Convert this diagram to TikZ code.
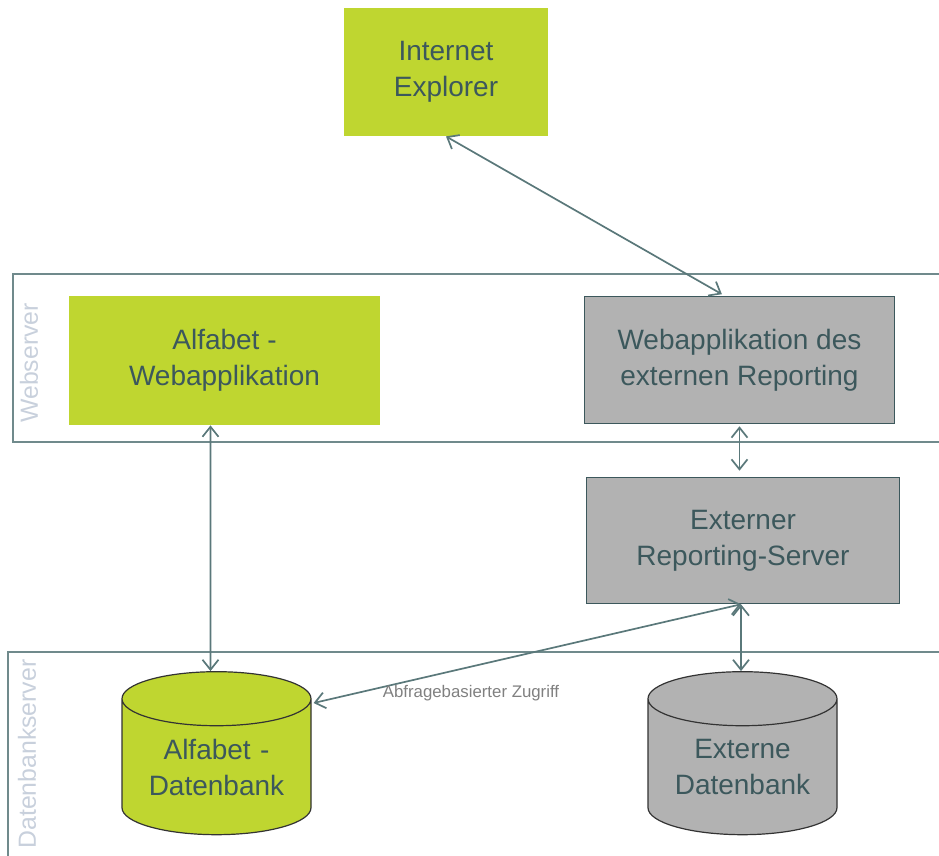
\documentclass[tikz,border=0pt]{standalone}
\usepackage{fontspec}
\setmainfont{Liberation Sans}
\usepackage{tikz}
\usetikzlibrary{calc,shapes.geometric,arrows.meta}
\usepackage{xcolor}
\definecolor{alfagreen}{RGB}{191,214,48}
\definecolor{extgray}{RGB}{178,178,178}
\definecolor{boxtext}{RGB}{60,88,92}
\definecolor{laneline}{RGB}{112,138,140}
\definecolor{lanetext}{RGB}{200,208,220}
\definecolor{linkline}{RGB}{90,120,122}
\definecolor{notetext}{RGB}{128,128,128}

\begin{document}
\begin{tikzpicture}[x=0.5pt,y=-0.5pt]
  \tikzset{greenbox/.style={rectangle,fill=alfagreen,text=boxtext,align=center,font=\fontsize{14}{18}\selectfont,inner sep=0pt}}
  \tikzset{graybox/.style={rectangle,fill=extgray,draw=boxtext,line width=0.8pt,text=boxtext,align=center,font=\fontsize{14}{18}\selectfont,inner sep=0pt}}
  \tikzset{dbcylinder/.style={cylinder,shape border rotate=90,aspect=0.386,draw=black!80,line width=0.6pt,inner sep=0pt,text width=70pt,minimum width=94.5pt,minimum height=81.5pt,text=boxtext,align=center,font=\fontsize{14}{18}\selectfont}}
  \tikzset{lane/.style={draw=laneline,line width=1pt}}
  \tikzset{lanelabel/.style={rotate=90,text=lanetext,font=\fontsize{12.4}{14}\selectfont,inner sep=0pt}}
  \tikzset{link/.style={draw=linkline,line width=0.85pt,{Straight Barb[length=5pt,width=8pt]}-{Straight Barb[length=5pt,width=8pt]}}}
  \tikzset{linklabel/.style={font=\fontsize{8.4}{10}\selectfont,text=notetext,inner sep=1pt}}
  \useasboundingbox (0,0) rectangle (939,856);
  % server lanes
  \draw[lane] (939,274) -| (13,442) -- (939,442);
  \draw[lane] (939,652) -| (8,856);
  \node[lanelabel] (lweb) at (29,363) {Webserver};
  \node[lanelabel] (ldb) at (27,754) {Datenbankserver};
  % boxes
  \node[greenbox,minimum width=102pt,minimum height=64pt] (ie) at (446,72) {Internet\\Explorer};
  \node[greenbox,minimum width=155.5pt,minimum height=64.5pt] (awa) at (224.5,360.5) {Alfabet -\\Webapplikation};
  \node[graybox,minimum width=155pt,minimum height=63.5pt] (wxr) at (739.5,360) {Webapplikation des\\externen Reporting};
  \node[graybox,minimum width=156.5pt,minimum height=63pt] (ers) at (743,540.5) {Externer\\Reporting-Server};
  % databases
  \node[dbcylinder,fill=alfagreen] (adb) at (216.5,767) {Alfabet -\\Datenbank};
  \node[dbcylinder,fill=extgray] (edb) at (742.5,767) {Externe\\Datenbank};
  % links
  \draw[link,shorten >=1.5pt] (ie.south) -- ([xshift=-7.5pt]wxr.north);
  \draw[link] ([xshift=-7pt]awa.south) -- ([xshift=-3pt]adb.north);
  \draw[link,shorten <=1pt,shorten >=3pt] (wxr.south) -- (wxr.south |- ers.north);
  \draw[link] ([xshift=-1pt]ers.south) -- ([xshift=-1pt]ers.south |- edb.north);
  \draw[link] ([xshift=-1pt]ers.south) -- ([xshift=1pt,yshift=32pt]adb.east);
  \node[linklabel] (zugriff) at (471,693) {Abfragebasierter Zugriff};
\end{tikzpicture}
\end{document}
